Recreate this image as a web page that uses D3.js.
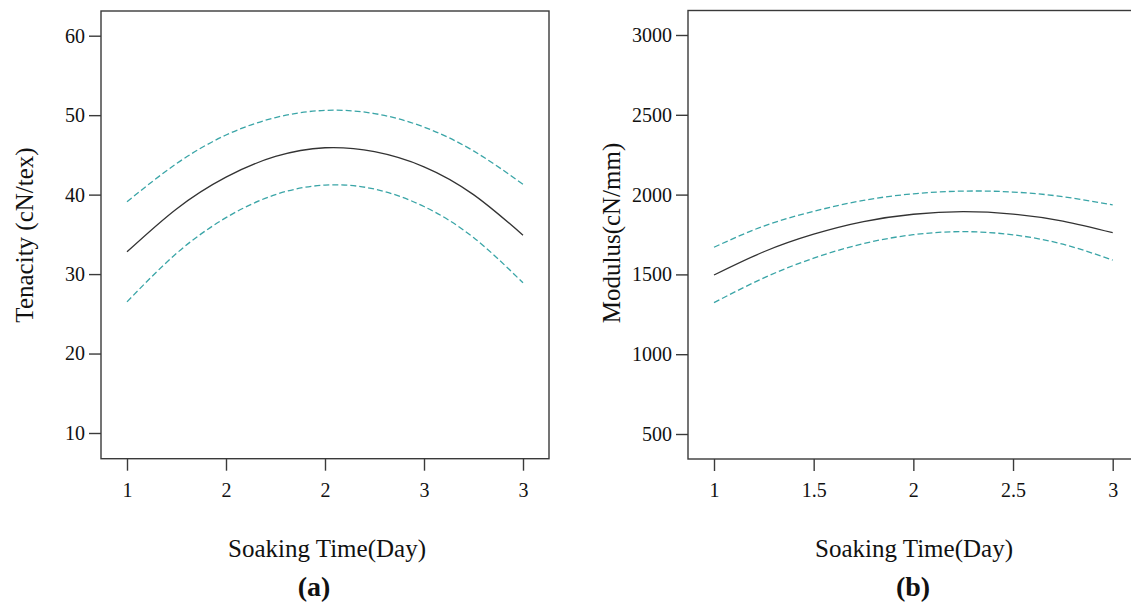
<!DOCTYPE html>
<html>
<head>
<meta charset="utf-8">
<script src="https://cdn.jsdelivr.net/npm/d3@7"></script>
<style>
  body { margin: 0; background: #fff; }
  svg text { font-family: "Liberation Serif", "DejaVu Serif", serif; fill: #111; }
</style>
</head>
<body>
<div id="chart"></div>
<script>
// soaking time points (day)
var days = [1, 1.25, 1.5, 1.75, 2, 2.25, 2.5, 2.75, 3];

// (a) tenacity, fit and confidence band
var tenFit   = [32.8, 38.2, 42.2, 44.8, 45.9, 45.4, 43.5, 40.0, 34.9];
var tenUpper = [39.1, 43.9, 47.5, 49.7, 50.6, 50.2, 48.5, 45.5, 41.3];
var tenLower = [26.5, 32.6, 37.1, 40.0, 41.2, 40.7, 38.5, 34.6, 28.9];

// (b) modulus, fit and confidence band
var modFit   = [1496, 1642, 1752, 1831, 1877, 1893, 1878, 1834, 1761];
var modUpper = [1670, 1803, 1895, 1964, 2005, 2022, 2016, 1987, 1935];
var modLower = [1323, 1478, 1602, 1693, 1749, 1768, 1748, 1689, 1590];

// tick values and labels
var tenYTicks = [10, 20, 30, 40, 50, 60];
var modYTicks = [500, 1000, 1500, 2000, 2500, 3000];
var xTicks = [1, 1.5, 2, 2.5, 3];
var tenXLabels = ["1", "2", "2", "3", "3"];
var modXLabels = ["1", "1.5", "2", "2.5", "3"];

var svg = d3.select("#chart").append("svg")
    .attr("width", 1131)
    .attr("height", 604);

function drawPanel(opt) {
    var x = d3.scaleLinear().domain([1, 3]).range([opt.x0, opt.x1]);
    var y = d3.scaleLinear().domain(opt.yDomain).range(opt.yRange);

    var g = svg.append("g");

    // frame
    g.append("rect")
        .attr("x", opt.boxLeft)
        .attr("y", opt.boxTop)
        .attr("width", opt.boxRight - opt.boxLeft)
        .attr("height", opt.boxBottom - opt.boxTop)
        .attr("fill", "none")
        .attr("stroke", "#3a3a3a")
        .attr("stroke-width", 1.4);

    // y axis
    var yAxis = d3.axisLeft(y)
        .tickValues(opt.yTicks)
        .tickSize(12)
        .tickPadding(4)
        .tickFormat(d3.format("d"));
    var ya = g.append("g")
        .attr("transform", `translate(${opt.boxLeft},0)`)
        .call(yAxis);
    ya.select(".domain").remove();
    ya.selectAll("line").attr("stroke", "#3a3a3a").attr("stroke-width", 1.4);
    ya.selectAll("text").attr("font-size", "20px")
        .attr("font-family", "Liberation Serif").attr("fill", "#111");

    // x axis
    var xAxis = d3.axisBottom(x)
        .tickValues(xTicks)
        .tickSize(12)
        .tickPadding(12)
        .tickFormat((d, i) => opt.xLabels[i]);
    var xa = g.append("g")
        .attr("transform", `translate(0,${opt.boxBottom})`)
        .call(xAxis);
    xa.select(".domain").remove();
    xa.selectAll("line").attr("stroke", "#3a3a3a").attr("stroke-width", 1.4);
    xa.selectAll("text").attr("font-size", "20px")
        .attr("font-family", "Liberation Serif").attr("fill", "#111");

    var line = d3.line()
        .x((d, i) => x(days[i]))
        .y(d => y(d))
        .curve(d3.curveNatural);

    // confidence band
    [opt.upper, opt.lower].forEach(function(s) {
        g.append("path")
            .attr("d", line(s))
            .attr("fill", "none")
            .attr("stroke", "#3aa5a7")
            .attr("stroke-width", 1.3)
            .attr("stroke-dasharray", "6,3");
    });

    // fitted curve
    g.append("path")
        .attr("d", line(opt.fit))
        .attr("fill", "none")
        .attr("stroke", "#333")
        .attr("stroke-width", 1.3);

    // axis titles
    g.append("text")
        .attr("transform", `translate(${opt.yTitleX},${opt.yTitleY}) rotate(-90)`)
        .attr("text-anchor", "middle")
        .attr("font-size", "25px")
        .text(opt.yTitle);

    g.append("text")
        .attr("x", opt.xTitleX)
        .attr("y", 557)
        .attr("text-anchor", "middle")
        .attr("font-size", "25px")
        .text("Soaking Time(Day)");

    g.append("text")
        .attr("x", opt.capX)
        .attr("y", 596)
        .attr("text-anchor", "middle")
        .attr("font-size", "28px")
        .attr("font-weight", "bold")
        .text(opt.caption);
}

drawPanel({
    x0: 127, x1: 523,
    yDomain: [10, 60], yRange: [433, 35.7],
    boxLeft: 101, boxRight: 549, boxTop: 11, boxBottom: 458.7,
    yTicks: tenYTicks, xLabels: tenXLabels,
    fit: tenFit, upper: tenUpper, lower: tenLower,
    yTitle: "Tenacity (cN/tex)", yTitleX: 33, yTitleY: 235,
    xTitleX: 327, capX: 314, caption: "(a)"
});

drawPanel({
    x0: 714, x1: 1112.7,
    yDomain: [500, 3000], yRange: [434, 35],
    boxLeft: 688, boxRight: 1139, boxTop: 10.5, boxBottom: 459,
    yTicks: modYTicks, xLabels: modXLabels,
    fit: modFit, upper: modUpper, lower: modLower,
    yTitle: "Modulus(cN/mm)", yTitleX: 620, yTitleY: 233,
    xTitleX: 914, capX: 913, caption: "(b)"
});
</script>
</body>
</html>
